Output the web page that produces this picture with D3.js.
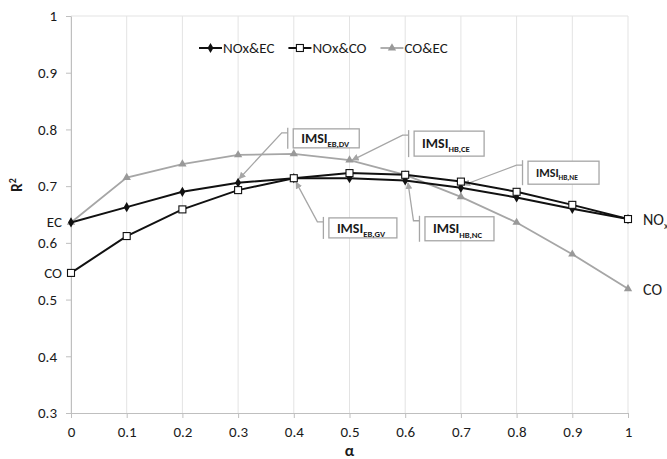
<!DOCTYPE html>
<html>
<head>
<meta charset="utf-8">
<script src="https://cdn.jsdelivr.net/npm/d3@7"></script>
<style>
  body { margin: 0; background: #fff; }
  text { font-family: Carlito, Calibri, Lato, sans-serif; fill: #1a1a1a; }
</style>
</head>
<body>
<svg id="chart"></svg>
<script>
// data
const alphaValues = [0, 0.1, 0.2, 0.3, 0.4, 0.5, 0.6, 0.7, 0.8, 0.9, 1];
const noxEc = [0.636, 0.663, 0.690, 0.706, 0.714, 0.714, 0.710, 0.697, 0.680, 0.660, 0.642];
const noxCo = [0.547, 0.612, 0.659, 0.693, 0.714, 0.723, 0.720, 0.708, 0.690, 0.667, 0.642];
const coEc = [0.636, 0.715, 0.739, 0.755, 0.757, 0.746, 0.720, 0.681, 0.636, 0.580, 0.519];
const seriesNames = ['NOx&EC', 'NOx&CO', 'CO&EC'];
const yTicks = [0.3, 0.4, 0.5, 0.6, 0.7, 0.8, 0.9, 1];

// callouts: subscript, arrow tip [alpha, R2], box top-left [alpha, R2]
const calloutSubs = ['EB,DV', 'HB,CE', 'HB,NE', 'EB,GV', 'HB,NC'];
const calloutTips = [[0.302, 0.713], [0.505, 0.746], [0.705, 0.702], [0.404, 0.707], [0.605, 0.706]];
const calloutBoxes = [[0.399, 0.801], [0.616, 0.797], [0.8205, 0.744], [0.463, 0.644], [0.6355, 0.646]];

// end labels next to the curves
const leftLabels = [['EC', 0.636], ['CO', 0.547]];
const rightLabels = [['NO', 'x', 0.642], ['CO', '', 0.519]];

class AlphaChart {
  constructor(_config) {
    this.config = {
      parentElement: _config.parentElement,
      containerWidth: 667,
      containerHeight: 459,
      margin: { top: 16, right: 39, bottom: 46, left: 71 },
      grey: '#a6a6a6',
      fontSize: 15,
      // box sizes [w, h] and font size of each callout
      boxSizes: [[66, 19, 14], [70, 25, 14], [71, 23, 12], [68, 20, 14], [69, 24, 14]],
    };
    this.initVis();
  }

  initVis() {
    const vis = this;
    const cfg = vis.config;
    vis.width = cfg.containerWidth - cfg.margin.left - cfg.margin.right;
    vis.height = cfg.containerHeight - cfg.margin.top - cfg.margin.bottom;

    vis.xScale = d3.scaleLinear().domain([0, 1]).range([0, vis.width]);
    vis.yScale = d3.scaleLinear().domain([0.3, 1]).range([vis.height, 0]);

    vis.svg = d3.select(cfg.parentElement)
      .attr('width', cfg.containerWidth)
      .attr('height', cfg.containerHeight);

    vis.svg.append('defs').append('marker')
      .attr('id', 'arrow')
      .attr('viewBox', '0 0 10 10')
      .attr('refX', 9)
      .attr('refY', 5)
      .attr('markerWidth', 7)
      .attr('markerHeight', 7)
      .attr('markerUnits', 'userSpaceOnUse')
      .attr('orient', 'auto')
      .append('path')
      .attr('d', 'M0,0L10,5L0,10z')
      .attr('fill', cfg.grey);

    vis.chart = vis.svg.append('g')
      .attr('transform', `translate(${cfg.margin.left},${cfg.margin.top})`);

    vis.renderAxes();
    vis.renderCallouts();
    vis.renderSeries();
    vis.renderLegend();
    vis.renderLabels();
  }

  renderAxes() {
    const vis = this;
    const fs = vis.config.fontSize;
    // vertical gridlines
    vis.chart.append('g')
      .selectAll('line')
      .data(alphaValues)
      .join('line')
      .attr('x1', (d) => vis.xScale(d))
      .attr('x2', (d) => vis.xScale(d))
      .attr('y1', 0)
      .attr('y2', vis.height)
      .attr('stroke', '#e3e3e3');

    // top border
    vis.chart.append('line')
      .attr('x1', 0).attr('x2', vis.width)
      .attr('y1', 0).attr('y2', 0)
      .attr('stroke', '#e3e3e3');

    const fmt = (d) => d3.format('')(+d.toFixed(1));
    const xAxis = d3.axisBottom(vis.xScale)
      .tickValues(alphaValues)
      .tickSize(5)
      .tickPadding(8)
      .tickFormat(fmt);
    const yAxis = d3.axisLeft(vis.yScale)
      .tickValues(yTicks)
      .tickSize(5)
      .tickPadding(9)
      .tickFormat(fmt);

    const styleAxis = (g) => {
      g.select('.domain').attr('stroke', '#bfbfbf');
      g.selectAll('.tick line').attr('stroke', '#bfbfbf');
      g.selectAll('.tick text').attr('font-size', fs).attr('fill', '#1a1a1a')
        .style('font-family', 'Carlito, Calibri, Lato, sans-serif');
    };

    vis.chart.append('g')
      .attr('transform', `translate(0,${vis.height})`)
      .call(xAxis)
      .call(styleAxis)
      .call((g) => g.select('.domain').attr('d', `M0.5,0.5H${vis.width + 0.5}`));

    vis.chart.append('g')
      .call(yAxis)
      .call(styleAxis)
      .call((g) => g.select('.domain').attr('d', `M0.5,0.5V${vis.height + 0.5}`));

    // axis titles
    vis.svg.append('text')
      .attr('transform', 'translate(22,185) rotate(-90)')
      .attr('text-anchor', 'middle')
      .attr('font-size', 15)
      .attr('font-weight', 'bold')
      .text('R')
      .append('tspan')
      .attr('font-size', 10)
      .attr('dy', -6)
      .text('2');

    vis.svg.append('text')
      .attr('x', vis.config.margin.left + vis.xScale(0.5))
      .attr('y', 456)
      .attr('text-anchor', 'middle')
      .attr('font-size', 16)
      .attr('font-weight', 'bold')
      .text('α');
  }

  renderSeries() {
    const vis = this;
    const grey = vis.config.grey;
    const line = (vals) => d3.line()
      .x((d, i) => vis.xScale(alphaValues[i]))
      .y((d) => vis.yScale(d))(vals);

    // CO&EC (grey, triangles)
    vis.chart.append('path')
      .attr('d', line(coEc))
      .attr('fill', 'none')
      .attr('stroke', grey)
      .attr('stroke-width', 1.8);
    vis.chart.append('g')
      .selectAll('path')
      .data(coEc)
      .join('path')
      .attr('transform', (d, i) => `translate(${vis.xScale(alphaValues[i])},${vis.yScale(d)})`)
      .attr('d', d3.symbol(d3.symbolTriangle, 30))
      .attr('fill', '#999');

    // NOx&EC (black, diamonds)
    vis.chart.append('path')
      .attr('d', line(noxEc))
      .attr('fill', 'none')
      .attr('stroke', '#111')
      .attr('stroke-width', 2);
    vis.chart.append('g')
      .selectAll('path')
      .data(noxEc)
      .join('path')
      .attr('transform', (d, i) => `translate(${vis.xScale(alphaValues[i])},${vis.yScale(d)})`)
      .attr('d', d3.symbol(d3.symbolDiamond, 30))
      .attr('fill', '#111');

    // NOx&CO (black, open squares)
    vis.chart.append('path')
      .attr('d', line(noxCo))
      .attr('fill', 'none')
      .attr('stroke', '#111')
      .attr('stroke-width', 2);
    vis.chart.append('g')
      .selectAll('rect')
      .data(noxCo)
      .join('rect')
      .attr('x', (d, i) => vis.xScale(alphaValues[i]) - 3.5)
      .attr('y', (d) => vis.yScale(d) - 3.5)
      .attr('width', 7)
      .attr('height', 7)
      .attr('fill', '#fff')
      .attr('stroke', '#111')
      .attr('stroke-width', 1.1);
  }

  renderCallouts() {
    const vis = this;
    const grey = vis.config.grey;
    calloutSubs.forEach((sub, i) => {
      const [bw, bh, fs] = vis.config.boxSizes[i];
      const bx = vis.xScale(calloutBoxes[i][0]);
      const by = vis.yScale(calloutBoxes[i][1]);
      const tx = vis.xScale(calloutTips[i][0]);
      const ty = vis.yScale(calloutTips[i][1]);
      const barX = bx - 5.5;
      const g = vis.chart.append('g');

      // leader: short horizontal from accent bar, then to the point
      g.append('path')
        .attr('d', `M${barX},${by + 4}H${barX - 6}L${tx},${ty}`)
        .attr('fill', 'none')
        .attr('stroke', grey)
        .attr('stroke-width', 1.3)
        .attr('marker-end', 'url(#arrow)');

      g.append('line')
        .attr('x1', barX).attr('x2', barX)
        .attr('y1', by - 1).attr('y2', by + bh + 1)
        .attr('stroke', grey)
        .attr('stroke-width', 1.3);

      g.append('rect')
        .attr('x', bx).attr('y', by)
        .attr('width', bw).attr('height', bh)
        .attr('fill', '#fff')
        .attr('stroke', grey)
        .attr('stroke-width', 1.3);

      const t = g.append('text')
        .attr('x', bx + 8)
        .attr('y', by + bh / 2 + fs * 0.33)
        .attr('font-size', fs)
        .attr('font-weight', 'bold')
        .text('IMSI');
      t.append('tspan')
        .attr('font-size', fs * 0.62)
        .attr('dy', fs * 0.3)
        .text(sub);
    });
  }

  renderLegend() {
    const vis = this;
    const legend = vis.svg.append('g').attr('transform', 'translate(199,48)');
    const colors = ['#111', '#111', vis.config.grey];
    let x = 0;
    seriesNames.forEach((name, i) => {
      const g = legend.append('g').attr('transform', `translate(${x},0)`);
      g.append('line')
        .attr('x1', 0).attr('x2', 23)
        .attr('stroke', colors[i])
        .attr('stroke-width', i === 2 ? 1.8 : 2);
      if (i === 0) {
        g.append('path').attr('transform', 'translate(11.5,0)')
          .attr('d', d3.symbol(d3.symbolDiamond, 30)).attr('fill', '#111');
      } else if (i === 1) {
        g.append('rect').attr('x', 8).attr('y', -3.5).attr('width', 7).attr('height', 7)
          .attr('fill', '#fff').attr('stroke', '#111').attr('stroke-width', 1.1);
      } else {
        g.append('path').attr('transform', 'translate(11.5,0)')
          .attr('d', d3.symbol(d3.symbolTriangle, 30)).attr('fill', '#999');
      }
      const txt = g.append('text')
        .attr('x', 24)
        .attr('y', 5)
        .attr('font-size', 15)
        .text(name);
      x += 24 + txt.node().getComputedTextLength() + 14;
    });
  }

  renderLabels() {
    const vis = this;
    const left = vis.config.margin.left;
    const top = vis.config.margin.top;
    vis.svg.append('g')
      .selectAll('text')
      .data(leftLabels)
      .join('text')
      .attr('x', left - 9)
      .attr('y', (d) => top + vis.yScale(d[1]) + 5)
      .attr('text-anchor', 'end')
      .attr('font-size', 15)
      .text((d) => d[0]);

    const right = vis.svg.append('g')
      .selectAll('text')
      .data(rightLabels)
      .join('text')
      .attr('x', left + vis.xScale(1) + 15)
      .attr('y', (d) => top + vis.yScale(d[2]) + 6)
      .attr('font-size', 16)
      .text((d) => d[0]);
    right.append('tspan')
      .attr('font-size', 10)
      .attr('dy', 4)
      .text((d) => d[1]);
  }
}

const alphaChart = new AlphaChart({ parentElement: '#chart' });
</script>
</body>
</html>
